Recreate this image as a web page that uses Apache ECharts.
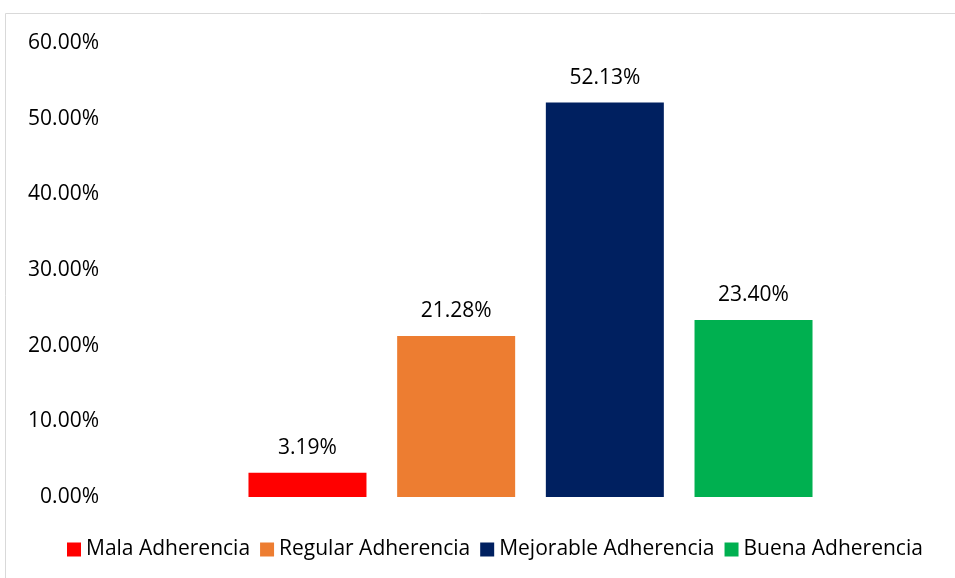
<!DOCTYPE html>
<html>
<head>
<meta charset="utf-8">
<script src="https://cdn.jsdelivr.net/npm/echarts@6/dist/echarts.min.js"></script>
<style>
  html, body { margin: 0; padding: 0; background: #fff; }
  #chart01 { width: 955px; height: 578px; }
</style>
</head>
<body>
<div id="chart01"></div>
<script>
// datos del gráfico
var categorias = ["Mala Adherencia", "Regular Adherencia", "Mejorable Adherencia", "Buena Adherencia"];
var valores = [3.19, 21.28, 52.13, 23.40];
var colores = ["#FF0000", "#ED7D31", "#002060", "#00B050"];
var ticksY = [0, 10, 20, 30, 40, 50, 60];

var fuente = "'Open Sans', sans-serif";

var myChart01 = echarts.init(document.getElementById('chart01'));

var series = categorias.map(function (nombre, i) {
  return {
    name: nombre,
    type: "bar",
    data: [valores[i]],
    barWidth: 118,
    barGap: "26%",
    itemStyle: { color: colores[i] },
    label: {
      show: true,
      position: "top",
      distance: 14,
      color: "#000",
      fontFamily: fuente,
      fontSize: 21,
      formatter: function (p) { return p.value.toFixed(2) + "%"; }
    }
  };
});

var option = {
  animation: false,
  graphic: [
    {
      type: "polyline",
      shape: { points: [[5.5, 578], [5.5, 13.5], [955, 13.5]] },
      style: { stroke: "#d9d9d9", lineWidth: 1, fill: null }
    }
  ],
  grid: { left: 107, right: 1, top: 43, bottom: 81 },
  legend: {
    left: 67,
    top: 539,
    padding: 0,
    itemWidth: 14,
    itemHeight: 14,
    itemGap: 10,
    icon: "rect",
    textStyle: { color: "#000", fontFamily: fuente, fontSize: 21 },
    data: categorias
  },
  xAxis: {
    type: "category",
    data: [""],
    axisLine: { show: false },
    axisTick: { show: false },
    axisLabel: { show: false }
  },
  yAxis: {
    type: "value",
    min: ticksY[0],
    max: ticksY[ticksY.length - 1],
    interval: 10,
    splitLine: { show: false },
    axisLine: { show: false },
    axisTick: { show: false },
    axisLabel: {
      color: "#000",
      fontFamily: fuente,
      fontSize: 21,
      margin: 8,
      formatter: function (v) { return v.toFixed(2) + "%"; }
    }
  },
  series: series
};

myChart01.setOption(option);
</script>
</body>
</html>
